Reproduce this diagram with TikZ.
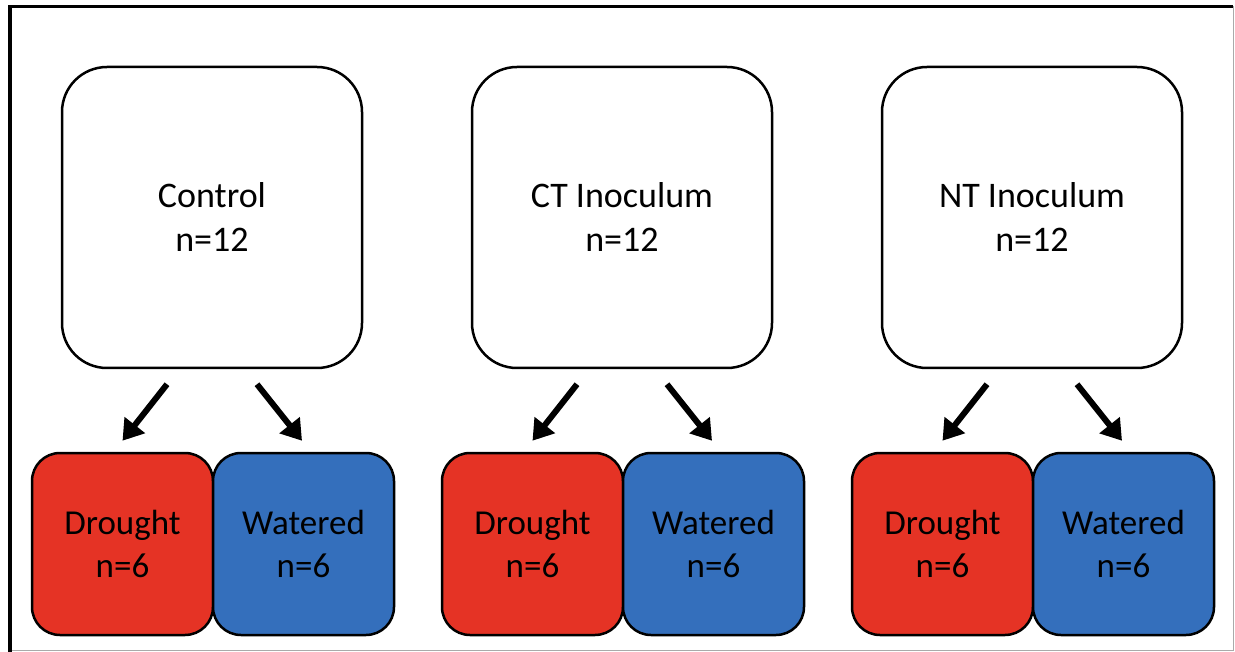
\documentclass[tikz,border=0pt]{standalone}
\usepackage{fontspec}
\setmainfont{Carlito}
\usetikzlibrary{arrows.meta}
\definecolor{dred}{RGB}{229,51,37}
\definecolor{wblue}{RGB}{52,111,188}
\definecolor{framegray}{RGB}{170,170,170}
\tikzset{
  bigbox/.style={draw=black, line width=2.5pt, fill=white, rounded corners=45pt,
    minimum width=300pt, minimum height=301pt, align=center, inner sep=0pt,
    font=\fontsize{36pt}{44pt}\selectfont},
  smallbox/.style={draw=black, line width=2.5pt, rounded corners=28pt,
    minimum width=181pt, minimum height=182pt, align=center, inner sep=0pt,
    font=\fontsize{35pt}{43pt}\selectfont},
  drbox/.style={smallbox, fill=dred},
  wabox/.style={smallbox, fill=wblue},
  arr/.style={line width=6pt, -{Triangle[length=20pt,width=25pt]}}
}
\begin{document}
\begin{tikzpicture}[x=1pt,y=-1pt]
\useasboundingbox (0,0) rectangle (1235,652);
% frame
\coordinate (ftl) at (10,6.5);
\coordinate (ftr) at (1233,6.5);
\coordinate (fbl) at (10,652);
\coordinate (fbr) at (1233,650);
\draw[framegray, line width=1pt] (10,650) -- (fbr) -- (ftr);
\draw[black, line width=3.5pt] (ftr) -- (ftl) -- (fbl);
% groups
\foreach \i/\lab in {0/Control, 1/CT Inoculum, 2/NT Inoculum} {
  \node[bigbox] (top\i) at (212+410*\i,217.5) {\lab\\n=12};
  \node[drbox] (d\i) at (122.5+410*\i,544) {Drought\\n=6};
  \node[wabox] (w\i) at (303.5+410*\i,544) {Watered\\n=6};
  \draw[arr] ([shift={(-45,15)}]top\i.south) -- ([shift={(0,-11)}]d\i.north);
  \draw[arr] ([shift={(45,15)}]top\i.south) -- ([shift={(-1.5,-11)}]w\i.north);
}
\end{tikzpicture}
\end{document}
